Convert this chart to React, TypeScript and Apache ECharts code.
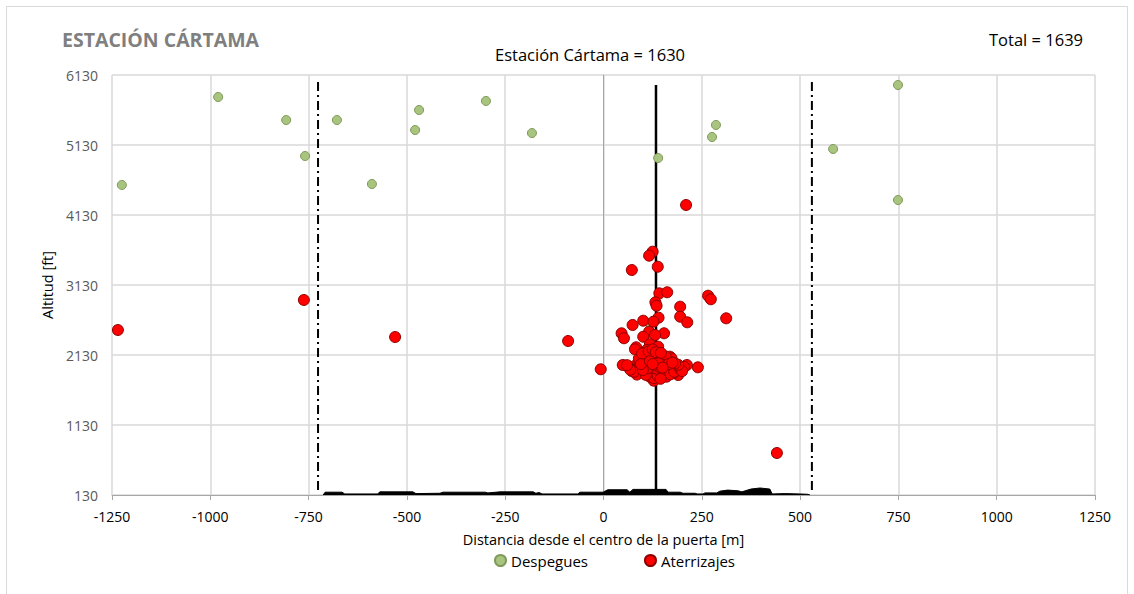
import React, { useEffect, useRef } from "react";
import * as echarts from "echarts";

const FONT = "'Open Sans', 'Noto Sans', sans-serif";

const xTicks = [-1250, -1000, -750, -500, -250, 0, 250, 500, 750, 1000, 1250];
const yTicks = [130, 1130, 2130, 3130, 4130, 5130, 6130];

// Despegues (take-offs): [distance m, altitude ft]
const despegues: number[][] = [
  [-1225, 4559], [-980, 5816], [-807, 5487], [-759, 4973], [-678, 5487],
  [-589, 4573], [-479, 5344], [-469, 5630], [-299, 5759], [-182, 5301],
  [139, 4944], [286, 5416], [276, 5244], [584, 5073], [749, 5987],
  [749, 4344], [118, 2573],
];

// Aterrizajes (landings)
const aterrizajes: number[][] = [
  [-1235, 2487], [-762, 2916], [-530, 2387], [-90, 2330], [-7, 1926], [441, 730],
  [210, 4273], [125, 3606], [116, 3549], [138, 3391], [72, 3344], [142, 3011],
  [162, 3026], [132, 2883], [135, 2834], [266, 2977], [273, 2926], [195, 2820],
  [195, 2677], [213, 2597], [312, 2654], [140, 2663], [101, 2620], [127, 2606],
  [74, 2559], [46, 2440], [52, 2369], [154, 2440], [116, 2463], [101, 2391],
  [131, 2416], [83, 2240], [80, 2211], [118, 2283], [139, 2249], [110, 2201],
  [101, 2154], [49, 1987], [240, 1954], [212, 1987], [190, 1844], [178, 1987],
  [169, 2106], [128, 1763], [173, 2083],
  [95, 1880], [102, 1905], [110, 1870], [118, 1925], [125, 1890], [132, 1860],
  [140, 1910], [148, 1875], [155, 1940], [162, 1895], [170, 1920], [178, 1870],
  [185, 1950], [100, 1960], [108, 1990], [115, 2010], [122, 1975], [130, 2030],
  [138, 1995], [145, 2050], [152, 2015], [160, 1980], [168, 2040], [175, 1960],
  [88, 1930], [80, 1975], [72, 1900], [65, 1950], [92, 2020], [105, 2060],
  [112, 2090], [120, 2120], [128, 2080], [135, 2140], [142, 2100], [150, 2070],
  [158, 2110], [90, 2080], [98, 2150], [115, 2180], [125, 2210], [133, 2170],
  [146, 2160], [118, 1820], [128, 1800], [138, 1830], [150, 1845], [160, 1820],
  [170, 1855], [180, 1890], [195, 1930], [205, 1960], [200, 1900], [190, 1990],
  [182, 2010], [85, 1850], [78, 1890], [68, 1920], [60, 1985], [108, 1845],
  [145, 1790], [122, 1950], [135, 1935], [142, 1960], [112, 1940], [100, 1915],
  [155, 1990], [165, 2000], [175, 2020], [95, 2000], [130, 1990], [140, 2010],
  [150, 1950], [118, 2040], [125, 2000],
];

// Terrain profile (distance m, ground altitude ft)
const terrainX = [-713, -708, -665, -658, -574, -569, -485, -477, -416, -408, -301, -294, -263, -179, -172, -164, -156, -65, -60, -1, 11, 60, 67, 75, 159, 164, 195, 202, 233, 238, 253, 258, 288, 296, 316, 342, 352, 375, 398, 423, 429, 461, 499, 520, 525];
const terrainY = [130, 170, 170, 145, 145, 175, 175, 150, 155, 170, 170, 160, 175, 175, 155, 165, 145, 145, 170, 170, 205, 205, 170, 210, 210, 170, 170, 155, 155, 145, 145, 160, 160, 185, 200, 190, 175, 215, 230, 215, 145, 150, 145, 140, 130];

// Reference lines
const gateCenter = 133.5;
const gateTop = 5987;
const limitLeft = -726;
const limitRight = 530;
const limitLow = 200;
const limitHigh = 6030;

export default function App() {
  const ref = useRef<HTMLDivElement>(null);
  useEffect(() => {
    if (!ref.current) return;
    const chart = echarts.init(ref.current, undefined, { renderer: "svg" });
    const terrain = terrainX.map((x, i) => [x, terrainY[i]]);
    chart.setOption({
      animation: false,
      backgroundColor: "#ffffff",
      textStyle: { fontFamily: FONT },
      title: [
        { text: "ESTACIÓN CÁRTAMA", left: 62, top: 29, padding: 0, textStyle: { color: "#7f7f7f", fontSize: 19.5, fontWeight: "bold", fontFamily: FONT } },
        { text: "Estación Cártama = 1630", left: 495, top: 46, padding: 0, textStyle: { color: "#000000", fontSize: 16.5, fontWeight: "normal", fontFamily: FONT } },
        { text: "Total = 1639", right: 51, top: 31, padding: 0, textStyle: { color: "#000000", fontSize: 16.5, fontWeight: "normal", fontFamily: FONT } },
      ],
      graphic: [
        { type: "rect", shape: { x: 6.5, y: 6.5, width: 1121, height: 600 }, style: { fill: "none", stroke: "#d9d9d9", lineWidth: 1 }, silent: true },
      ],
      grid: { left: 112, right: 39, top: 75, bottom: 99 },
      legend: {
        bottom: 21,
        left: 489,
        itemGap: 56,
        itemWidth: 11,
        itemHeight: 11,
        textStyle: { color: "#000000", fontSize: 15, fontFamily: FONT },
        data: [
          { name: "Despegues", icon: "circle" },
          { name: "Aterrizajes", icon: "circle" },
        ],
      },
      xAxis: {
        type: "value",
        min: xTicks[0],
        max: xTicks[xTicks.length - 1],
        interval: 250,
        name: "Distancia desde el centro de la puerta [m]",
        nameLocation: "middle",
        nameGap: 37,
        nameTextStyle: { color: "#000000", fontSize: 14.5, fontFamily: FONT },
        axisLine: { show: true, onZero: false, lineStyle: { color: "#a6a6a6", width: 1 } },
        axisTick: { show: true, length: 5, lineStyle: { color: "#a6a6a6" } },
        axisLabel: { color: "#000000", fontSize: 14, margin: 14, fontFamily: FONT, formatter: (v: number) => String(v) },
        splitLine: { show: true, lineStyle: { color: "#d9d9d9", width: 1.5 } },
      },
      yAxis: {
        type: "value",
        min: yTicks[0],
        max: yTicks[yTicks.length - 1],
        interval: 1000,
        name: "Altitud [ft]",
        nameLocation: "middle",
        nameGap: 54,
        nameRotate: 90,
        nameTextStyle: { color: "#000000", fontSize: 14.5, fontFamily: FONT },
        axisLine: { show: true, lineStyle: { color: "#a6a6a6", width: 1 } },
        axisTick: { show: false },
        axisLabel: { color: "#595959", fontSize: 14, margin: 14, fontFamily: FONT, formatter: (v: number) => String(v) },
        splitLine: { show: true, lineStyle: { color: "#d9d9d9", width: 1.5 } },
      },
      series: [
        {
          name: "terrain",
          type: "line",
          data: terrain,
          symbol: "none",
          lineStyle: { color: "#000000", width: 1 },
          areaStyle: { color: "#000000", opacity: 1, origin: "start" },
          silent: true,
          z: 3,
        },
        {
          name: "gate",
          type: "line",
          data: [[gateCenter, yTicks[0]], [gateCenter, gateTop]],
          symbol: "none",
          lineStyle: { color: "#000000", width: 2.5 },
          silent: true,
          z: 4,
        },
        {
          name: "limitL",
          type: "line",
          data: [[limitLeft, limitLow], [limitLeft, limitHigh]],
          symbol: "none",
          lineStyle: { color: "#000000", width: 2, type: [9, 4, 2, 4] },
          silent: true,
          z: 4,
        },
        {
          name: "limitR",
          type: "line",
          data: [[limitRight, limitLow], [limitRight, limitHigh]],
          symbol: "none",
          lineStyle: { color: "#000000", width: 2, type: [9, 4, 2, 4] },
          silent: true,
          z: 4,
        },
        {
          name: "Despegues",
          type: "scatter",
          data: despegues,
          symbol: "circle",
          symbolSize: 9,
          itemStyle: { color: "#a9c47f", borderColor: "#7f9a5b", borderWidth: 1, opacity: 1 },
          z: 5,
        },
        {
          name: "Aterrizajes",
          type: "scatter",
          data: aterrizajes,
          symbol: "circle",
          symbolSize: 11,
          itemStyle: { color: "#ff0000", borderColor: "#8b0000", borderWidth: 1, opacity: 1 },
          z: 6,
        },
      ],
    });
    return () => chart.dispose();
  }, []);
  return <div ref={ref} style={{ position: "fixed", left: 0, top: 0, width: 1134, height: 594 }} />;
}
